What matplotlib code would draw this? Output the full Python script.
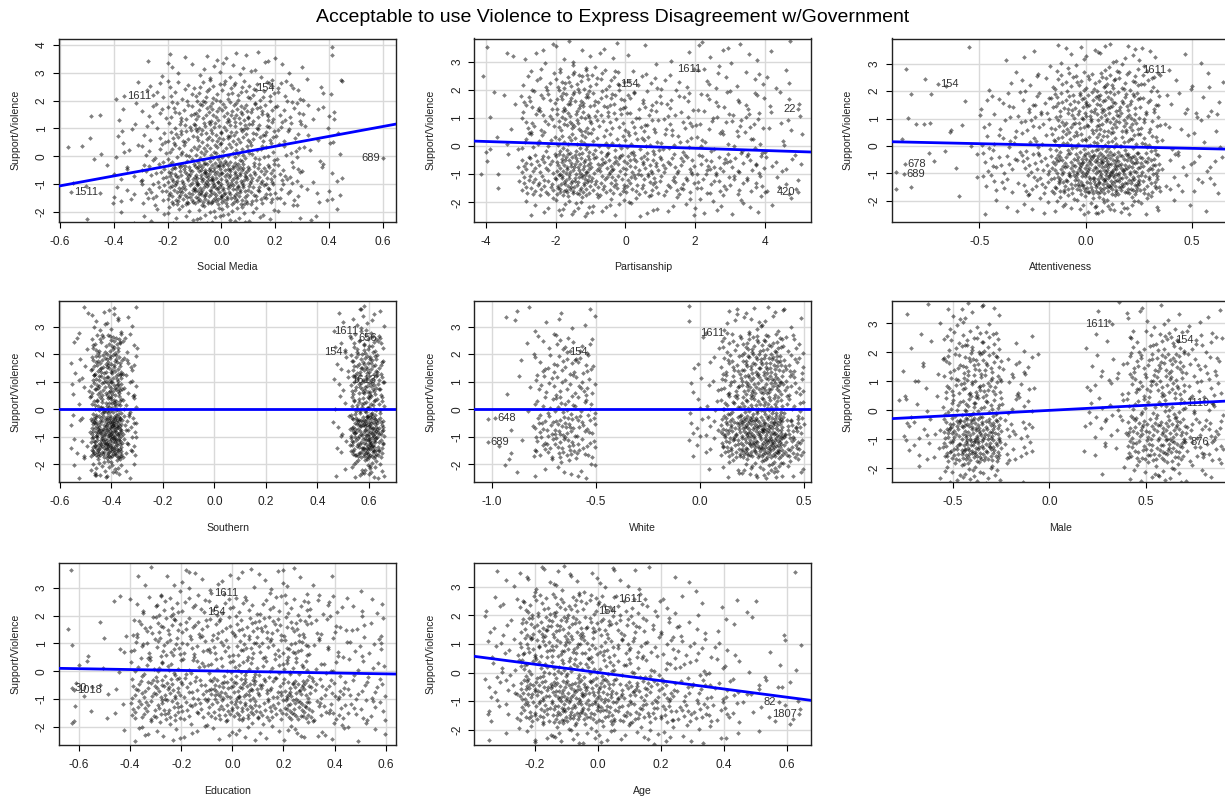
import numpy as np
import matplotlib.pyplot as plt
from matplotlib.ticker import FormatStrFormatter

plt.rcParams['font.family'] = ['Liberation Sans', 'DejaVu Sans']
plt.rcParams['axes.unicode_minus'] = False

title = "Acceptable to use Violence to Express Disagreement w/Government"
ylab = "Support/Violence"

# y bins shared by all panels (residual of Support/Violence)
y_edges = [-2.5, -1.75, -1.0, -0.25, 0.5, 1.25, 2.0, 2.75, 3.75]

# ---- Social Media
sm_xedges = [-0.6, -0.4, -0.3, -0.2, -0.1, 0.0, 0.1, 0.2, 0.3, 0.45]
sm_counts = [[1, 2, 4, 10, 14, 13, 8, 5, 3],
             [3, 6, 14, 36, 48, 42, 24, 11, 6],
             [2, 6, 14, 36, 52, 44, 28, 12, 6],
             [3, 5, 9, 18, 24, 22, 15, 9, 5],
             [1, 4, 8, 18, 26, 26, 20, 11, 6],
             [1, 3, 7, 16, 22, 24, 19, 11, 7],
             [0, 2, 6, 10, 14, 16, 14, 8, 5],
             [0, 0, 2, 5, 7, 8, 7, 4, 2]]
sm_extra = [(0.41, 3.95), (-0.52, 0.35), (-0.45, 1.5), (0.45, 2.7), (0.43, -0.9),
            (-0.2, 3.35), (0.41, -1.55), (0.42, 1.35)]
sm_ids = [("1611", -0.362, 2.17), ("154", 0.21, 2.47), ("1511", -0.559, -1.30), ("689", 0.60, -0.05)]
sm_slope = 1.78

# ---- Partisanship
pa_xedges = [-4.2, -3, -2, -1, 0, 1, 2, 3, 4, 5.1]
pa_counts = [[0, 6, 16, 10, 8, 6, 6, 6, 2],
             [3, 26, 50, 30, 26, 18, 16, 14, 7],
             [4, 24, 48, 32, 30, 20, 18, 16, 8],
             [4, 14, 24, 18, 16, 12, 9, 9, 4],
             [2, 16, 28, 18, 16, 12, 10, 12, 6],
             [2, 16, 28, 20, 14, 10, 8, 8, 4],
             [1, 10, 22, 14, 8, 6, 6, 5, 3],
             [2, 5, 8, 5, 3, 2, 4, 4, 2]]
pa_extra = [(-3.4, 3.3), (2.1, 3.6), (2.8, 3.4), (-3.5, 1.8), (4.7, 2.25), (-3.9, -0.1)]
pa_ids = [("154", -0.22, 2.22), ("1611", 2.25, 2.74), ("22", 4.97, 1.30), ("420", 4.96, -1.63)]
pa_slope = -0.04

# ---- Attentiveness
at_xedges = [-0.9, -0.5, -0.3, -0.15, -0.05, 0.05, 0.15, 0.25, 0.35, 0.65]
at_counts = [[1, 4, 6, 8, 10, 12, 10, 6, 3],
             [2, 10, 16, 24, 32, 40, 32, 22, 12],
             [4, 14, 18, 24, 34, 40, 32, 22, 12],
             [5, 12, 12, 14, 16, 18, 15, 11, 7],
             [4, 10, 12, 16, 18, 22, 18, 12, 8],
             [2, 9, 12, 15, 18, 20, 16, 11, 7],
             [2, 3, 6, 10, 12, 14, 12, 10, 6],
             [1, 1, 3, 5, 5, 7, 6, 5, 2]]
at_extra = [(-0.55, 3.6), (0.09, 3.65), (0.58, 2.15), (0.52, 1.2), (0.62, 1.15),
            (-0.8, 0.8), (-0.76, 0.8), (-0.73, 1.9), (-0.82, -1.5)]
at_ids = [("154", -0.696, 2.27), ("678", -0.851, -0.66), ("689", -0.856, -1.02), ("1611", 0.393, 2.76)]
at_slope = -0.17

# ---- Southern
so_xedges = [-0.56, -0.48, -0.42, -0.36, -0.3, 0.46, 0.53, 0.58, 0.63, 0.66]
so_counts = [[3, 12, 14, 3, 0, 2, 8, 14, 4],
             [6, 40, 52, 10, 0, 4, 26, 40, 12],
             [4, 40, 56, 12, 0, 5, 28, 40, 15],
             [3, 22, 30, 8, 0, 4, 16, 20, 7],
             [6, 24, 30, 8, 0, 4, 18, 22, 8],
             [5, 22, 28, 8, 0, 4, 16, 20, 7],
             [3, 14, 20, 6, 0, 4, 10, 14, 4],
             [2, 6, 8, 3, 0, 3, 5, 6, 2]]
so_extra = [(-0.49, 3.5), (0.57, 3.65), (-0.46, -2.4), (-0.33, -0.25)]
so_ids = [("1611", 0.569, 2.84), ("656", 0.644, 2.58), ("154", 0.508, 2.07), ("1613", 0.64, 1.07)]
so_slope = 0.0

# ---- White
wh_xedges = [-1.02, -0.8, -0.7, -0.6, -0.5, -0.06, 0.1, 0.2, 0.3, 0.4, 0.5]
wh_counts = [[2, 3, 5, 6, 0, 1, 6, 12, 18, 7],
             [3, 14, 18, 12, 0, 6, 26, 40, 48, 23],
             [3, 14, 20, 13, 0, 10, 30, 44, 45, 21],
             [1, 8, 12, 10, 0, 6, 16, 24, 23, 10],
             [3, 7, 10, 10, 0, 6, 16, 26, 28, 14],
             [1, 8, 11, 9, 0, 4, 14, 24, 26, 13],
             [1, 5, 8, 5, 0, 2, 10, 18, 18, 8],
             [2, 2, 3, 3, 0, 2, 5, 8, 7, 3]]
wh_extra = [(-0.05, 3.2), (-0.88, 3.55), (-0.89, 3.25), (0.18, 3.65), (-0.92, -1.8)]
wh_ids = [("154", -0.64, 2.09), ("648", -0.986, -0.31), ("689", -1.02, -1.17), ("1611", 0.13, 2.77)]
wh_slope = 0.0

# ---- Male
ma_xedges = [-0.76, -0.55, -0.45, -0.35, -0.25, -0.08, 0.18, 0.4, 0.55, 0.7, 0.9]
ma_counts = [[2, 8, 12, 8, 2, 0, 2, 8, 12, 6],
             [8, 24, 36, 30, 10, 0, 6, 26, 32, 18],
             [10, 26, 34, 28, 12, 0, 10, 28, 32, 20],
             [5, 12, 18, 15, 8, 0, 10, 14, 18, 10],
             [5, 12, 18, 16, 9, 0, 8, 18, 22, 12],
             [4, 10, 16, 14, 8, 0, 6, 16, 24, 12],
             [3, 8, 12, 10, 3, 0, 3, 10, 16, 10],
             [3, 5, 6, 4, 0, 0, 3, 6, 5, 3]]
ma_extra = [(-0.45, 3.5), (-0.78, 0.35), (-0.06, 1.95), (0.78, 3.05), (0.4, 3.35)]
ma_ids = [("1611", 0.322, 2.97), ("154", 0.759, 2.43), ("1119", 0.84, 0.24), ("876", 0.84, -1.09)]
ma_slope = 0.35

# ---- Education
ed_xedges = [-0.65, -0.4, -0.3, -0.2, -0.1, 0.0, 0.1, 0.2, 0.3, 0.45, 0.6]
ed_counts = [[2, 6, 7, 5, 6, 7, 5, 8, 8, 6],
             [5, 18, 22, 14, 22, 26, 20, 30, 20, 13],
             [6, 18, 24, 16, 26, 28, 20, 28, 20, 14],
             [4, 10, 14, 10, 12, 16, 12, 14, 10, 8],
             [5, 10, 16, 12, 12, 16, 14, 16, 10, 9],
             [3, 10, 14, 12, 12, 14, 14, 14, 10, 7],
             [1, 6, 10, 8, 8, 9, 8, 10, 10, 5],
             [1, 3, 4, 5, 5, 4, 6, 4, 2, 1]]
ed_extra = [(-0.17, 3.55), (0.2, 3.65), (-0.62, -1.8), (-0.44, 2.7), (0.58, 1.0)]
ed_ids = [("1611", -0.083, 2.82), ("154", -0.109, 2.14), ("30", -0.627, -0.61), ("1018", -0.62, -0.66)]
ed_slope = -0.155

# ---- Age
ag_xedges = [-0.36, -0.25, -0.15, -0.05, 0.05, 0.15, 0.25, 0.35, 0.45, 0.65]
ag_counts = [[2, 8, 12, 12, 8, 8, 5, 3, 2],
             [6, 28, 40, 34, 24, 22, 16, 12, 8],
             [10, 34, 42, 36, 26, 20, 14, 10, 8],
             [8, 20, 22, 18, 14, 10, 8, 6, 4],
             [8, 24, 26, 20, 16, 10, 8, 5, 3],
             [6, 24, 26, 20, 14, 10, 5, 3, 2],
             [5, 16, 18, 14, 10, 6, 3, 2, 1],
             [3, 8, 9, 6, 4, 2, 2, 0, 1]]
ag_extra = [(0.05, 3.6), (-0.35, -1.45), (0.39, -2.3), (0.5, 2.5), (0.51, -0.45)]
ag_ids = [("1611", 0.15, 2.56), ("154", -0.008, 2.16), ("82", 0.574, -1.03), ("1807", 0.639, -1.46)]
ag_slope = -1.44

panels = [
    ("Social Media", sm_xedges, sm_counts, sm_extra, sm_ids, sm_slope,
     (-0.604, 0.65), (-2.36, 4.24), np.arange(-0.6, 0.61, 0.2), np.arange(-2, 5), '%.1f'),
    ("Partisanship", pa_xedges, pa_counts, pa_extra, pa_ids, pa_slope,
     (-4.34, 5.34), (-2.69, 3.82), [-4, -2, 0, 2, 4], np.arange(-2, 4), '%d'),
    ("Attentiveness", at_xedges, at_counts, at_extra, at_ids, at_slope,
     (-0.913, 0.674), (-2.76, 3.92), [-0.5, 0.0, 0.5], np.arange(-2, 4), '%.1f'),
    ("Southern", so_xedges, so_counts, so_extra, so_ids, so_slope,
     (-0.604, 0.706), (-2.65, 3.93), np.arange(-0.6, 0.61, 0.2), np.arange(-2, 4), '%.1f'),
    ("White", wh_xedges, wh_counts, wh_extra, wh_ids, wh_slope,
     (-1.085, 0.537), (-2.65, 3.93), [-1.0, -0.5, 0.0, 0.5], np.arange(-2, 4), '%.1f'),
    ("Male", ma_xedges, ma_counts, ma_extra, ma_ids, ma_slope,
     (-0.816, 0.928), (-2.48, 3.77), [-0.5, 0.0, 0.5], np.arange(-2, 4), '%.1f'),
    ("Education", ed_xedges, ed_counts, ed_extra, ed_ids, ed_slope,
     (-0.678, 0.640), (-2.646, 3.875), np.arange(-0.6, 0.61, 0.2), np.arange(-2, 4), '%.1f'),
    ("Age", ag_xedges, ag_counts, ag_extra, ag_ids, ag_slope,
     (-0.393, 0.677), (-2.535, 3.82), np.arange(-0.2, 0.61, 0.2), np.arange(-2, 4), '%.1f'),
]


def halton(i, b):
    f, r = 1.0, 0.0
    while i > 0:
        f = f / b
        r = r + f * (i % b)
        i = i // b
    return r


def spread(xedges, counts, start):
    # place each cell's count evenly inside the cell
    xs, ys = [], []
    k = start
    for r, row in enumerate(counts):
        y0, y1 = y_edges[r], y_edges[r + 1]
        for c, n in enumerate(row):
            x0, x1 = xedges[c], xedges[c + 1]
            for j in range(n):
                k += 1
                xs.append(x0 + (x1 - x0) * halton(k, 2))
                ys.append(y0 + (y1 - y0) * halton(k, 3))
    return np.array(xs), np.array(ys)


W, H = 1225, 802
lefts = [59, 474.3, 891.7]
tops = [38.5, 301, 563.3]
bottoms = [221.7, 482.3, 745]
aw = 337

fig = plt.figure(figsize=(W / 100, H / 100), dpi=100)
fig.suptitle(title, y=1 - 17 / H, va='center', fontsize=14)

for i, (name, xe, cnt, extra, ids, slope, xl, yl, xt, yt, fmt) in enumerate(panels):
    r, c = divmod(i, 3)
    ax = fig.add_axes([lefts[c] / W, 1 - bottoms[r] / H, aw / W, (bottoms[r] - tops[r]) / H])
    xs, ys = spread(xe, cnt, 17 * i)
    ex = np.array([p[0] for p in extra] + [p[1] for p in ids])
    ey = np.array([p[1] for p in extra] + [p[2] for p in ids])
    xs = np.concatenate([xs, ex])
    ys = np.concatenate([ys, ey])
    ax.plot(xs, ys, 'D', ms=2.4, mfc='black', mec='none', alpha=0.5, zorder=2)
    xmid = np.mean([xs.min(), xs.max()])
    for lab, px, py in ids:
        if px > xmid:
            ax.annotate(lab, (px, py), xytext=(-2, 0), textcoords='offset points',
                        ha='right', va='center', fontsize=8, color='#333333')
        else:
            ax.annotate(lab, (px, py), xytext=(2, 0), textcoords='offset points',
                        ha='left', va='center', fontsize=8, color='#333333')
    lx = np.array(xl)
    ax.plot(lx, slope * lx, color='#0000ff', lw=2, zorder=3)
    ax.set_xlim(xl)
    ax.set_ylim(yl)
    ax.set_xticks(xt)
    ax.set_yticks(yt)
    ax.xaxis.set_major_formatter(FormatStrFormatter(fmt))
    ax.yaxis.set_major_formatter(FormatStrFormatter('%d'))
    ax.grid(True, color='#d9d9d9', lw=1, zorder=0)
    ax.set_axisbelow(True)
    ax.tick_params(direction='out', length=4, width=0.8, labelsize=8.6,
                   labelcolor='#222222')
    ax.tick_params(axis='x', pad=6)
    ax.tick_params(axis='y', labelrotation=90, pad=4)
    for t in ax.get_yticklabels():
        t.set_va('center')
    for s in ax.spines.values():
        s.set_linewidth(1.0)
        s.set_color('#222222')
    ax.set_xlabel(name, fontsize=7.6, color='#222222', va='center')
    ax.xaxis.set_label_coords(0.5, -45.5 / (bottoms[r] - tops[r]))
    ax.set_ylabel(ylab, fontsize=7.6, color='#222222', va='center')
    ax.yaxis.set_label_coords(-44 / aw, 0.5)

fig.savefig("out.png", dpi=100)
